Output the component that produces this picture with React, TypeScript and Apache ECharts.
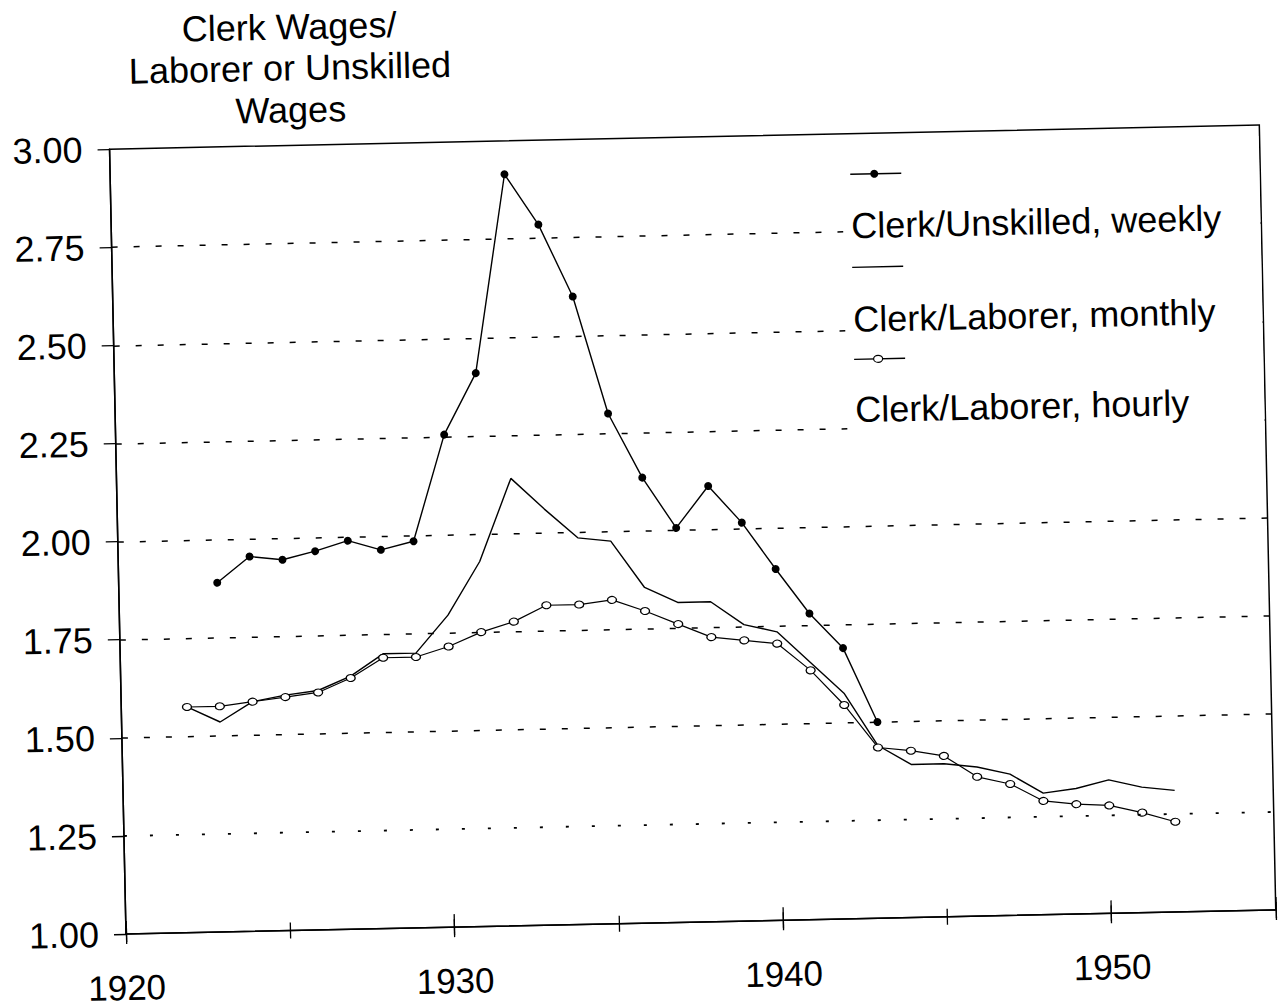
import React, { useEffect, useRef } from 'react';
import * as echarts from 'echarts';

const YEARS = [
  1922, 1923, 1924, 1925, 1926, 1927, 1928, 1929, 1930, 1931, 1932, 1933, 1934, 1935, 1936, 1937,
  1938, 1939, 1940, 1941, 1942, 1943, 1944, 1945, 1946, 1947, 1948, 1949, 1950, 1951, 1952,
];
const WEEKLY_YEARS = [
  1923, 1924, 1925, 1926, 1927, 1928, 1929, 1930, 1931, 1932, 1933, 1934, 1935, 1936, 1937, 1938,
  1939, 1940, 1941, 1942, 1943,
];
const WEEKLY = [
  1.89, 1.955, 1.945, 1.965, 1.99, 1.965, 1.985, 2.255, 2.41, 2.915, 2.785, 2.6, 2.3, 2.135, 2.005,
  2.11, 2.015, 1.895, 1.78, 1.69, 1.5,
];
const MONTHLY = [
  1.575, 1.535, 1.585, 1.6, 1.61, 1.645, 1.7, 1.7, 1.795, 1.93, 2.14, 2.06, 1.985, 1.975, 1.855,
  1.815, 1.815, 1.755, 1.735, 1.655, 1.575, 1.44, 1.39, 1.39, 1.38, 1.36, 1.31, 1.32, 1.34, 1.32,
  1.31,
];
const HOURLY = [
  1.575, 1.575, 1.585, 1.595, 1.605, 1.64, 1.69, 1.69, 1.715, 1.75, 1.775, 1.815, 1.815, 1.825,
  1.795, 1.76, 1.725, 1.715, 1.705, 1.635, 1.545, 1.435, 1.425, 1.41, 1.355, 1.335, 1.29, 1.28,
  1.275, 1.255, 1.23,
];
const DASHED_GRID = [2.75, 2.5, 2.25, 2.0, 1.75, 1.5];
const DOTTED_GRID = [1.25];
const SERIES_NAMES = ['Clerk/Unskilled, weekly', 'Clerk/Laborer, monthly', 'Clerk/Laborer, hourly'];
const TITLE_LINES = ['Clerk Wages/', 'Laborer or Unskilled', 'Wages'];

const FONT = '"Liberation Sans", Arial, Helvetica, sans-serif';
const BLACK = '#000';

function buildOption() {
  const weeklyData = WEEKLY_YEARS.map((y, i) => [y, WEEKLY[i]]);
  const monthlyData = YEARS.map((y, i) => [y, MONTHLY[i]]);
  const hourlyData = YEARS.map((y, i) => [y, HOURLY[i]]);

  const xBase = {
    type: 'value',
    min: 1920,
    max: 1955,
    position: 'bottom',
    offset: 0,
    splitLine: { show: false },
    axisLine: { show: false, onZero: false },
    axisLabel: { show: false },
  };

  const gridMarks = [
    ...DASHED_GRID.map((v) => ({
      yAxis: v,
      lineStyle: { type: [6, 16], color: BLACK, width: 1.5 },
    })),
    ...DOTTED_GRID.map((v) => ({
      yAxis: v,
      lineStyle: { type: [3, 23], color: BLACK, width: 1.8 },
    })),
  ];

  const legendY = [189.6, 282.7, 374.7];
  const legendTextY = [241, 334.7, 425];
  const titleY = [30.4, 71.4, 113.4];

  const graphic: any[] = [
    {
      type: 'rect',
      shape: { x: 858, y: 160, width: 417, height: 295 },
      style: { fill: '#fff' },
      z: 100,
    },
  ];
  legendY.forEach((y, i) => {
    graphic.push({
      type: 'line',
      shape: { x1: 866, y1: y, x2: 917, y2: y },
      style: { stroke: BLACK, lineWidth: 1.4 },
      z: 101,
    });
    if (i === 0) {
      graphic.push({
        type: 'circle',
        shape: { cx: 890, cy: y, r: 4 },
        style: { fill: BLACK },
        z: 102,
      });
    } else if (i === 2) {
      graphic.push({
        type: 'ellipse',
        shape: { cx: 890, cy: y, rx: 4.5, ry: 3.5 },
        style: { fill: '#fff', stroke: BLACK, lineWidth: 1.2 },
        z: 102,
      });
    }
    graphic.push({
      type: 'text',
      x: 866,
      y: legendTextY[i],
      style: {
        text: SERIES_NAMES[i],
        fontSize: 36,
        fontFamily: FONT,
        fill: BLACK,
        textAlign: 'left',
        textVerticalAlign: 'middle',
      },
      z: 102,
    });
  });
  TITLE_LINES.forEach((t, i) => {
    graphic.push({
      type: 'text',
      x: 308,
      y: titleY[i],
      style: {
        text: t,
        fontSize: 36,
        fontFamily: FONT,
        fill: BLACK,
        textAlign: 'center',
        textVerticalAlign: 'middle',
      },
      z: 102,
    });
  });

  return {
    animation: false,
    backgroundColor: '#fff',
    grid: {
      left: 126,
      top: 149,
      width: 1152,
      height: 785,
      show: true,
      borderColor: BLACK,
      borderWidth: 1.5,
      backgroundColor: 'transparent',
    },
    xAxis: [
      {
        ...xBase,
        interval: 10,
        axisLine: { show: true, onZero: false, lineStyle: { color: BLACK, width: 1.5 } },
        axisTick: { show: true, length: 10, lineStyle: { color: BLACK, width: 1.3 } },
        axisLabel: {
          show: true,
          formatter: (v: number) => (v % 10 === 0 ? String(v) : ''),
          fontSize: 35,
          fontFamily: FONT,
          color: BLACK,
          margin: 36,
        },
      },
      {
        ...xBase,
        interval: 10,
        axisTick: { show: true, inside: true, length: 13, lineStyle: { color: BLACK, width: 1.3 } },
      },
      {
        ...xBase,
        interval: 5,
        axisTick: { show: true, length: 8, lineStyle: { color: BLACK, width: 1.3 } },
      },
      {
        ...xBase,
        interval: 5,
        axisTick: { show: true, inside: true, length: 8, lineStyle: { color: BLACK, width: 1.3 } },
      },
    ],
    yAxis: {
      type: 'value',
      min: 1,
      max: 3,
      interval: 0.25,
      axisLine: { show: true, onZero: false, lineStyle: { color: BLACK, width: 1.5 } },
      axisTick: { show: true, length: 12, lineStyle: { color: BLACK, width: 1.3 } },
      axisLabel: {
        formatter: (v: number) => v.toFixed(2),
        fontSize: 36,
        fontFamily: FONT,
        color: BLACK,
        margin: 27,
      },
      splitLine: { show: false },
    },
    series: [
      {
        name: SERIES_NAMES[0],
        type: 'line',
        data: weeklyData,
        symbol: 'circle',
        symbolSize: 8,
        itemStyle: { color: BLACK },
        lineStyle: { color: BLACK, width: 1.4 },
        z: 3,
        markLine: {
          silent: true,
          symbol: ['none', 'none'],
          label: { show: false },
          data: gridMarks,
        },
      },
      {
        name: SERIES_NAMES[1],
        type: 'line',
        data: monthlyData,
        symbol: 'none',
        lineStyle: { color: BLACK, width: 1.4 },
        z: 3,
      },
      {
        name: SERIES_NAMES[2],
        type: 'line',
        data: hourlyData,
        symbol: 'circle',
        symbolSize: [9, 7],
        itemStyle: { color: '#fff', borderColor: BLACK, borderWidth: 1.2 },
        lineStyle: { color: BLACK, width: 1.2 },
        z: 4,
      },
    ],
    graphic,
  };
}

export default function App() {
  const ref = useRef<HTMLDivElement>(null);
  useEffect(() => {
    if (!ref.current) return;
    const chart = echarts.init(ref.current, null, { renderer: 'svg', width: 1279, height: 1007 });
    chart.setOption(buildOption() as any);
    return () => chart.dispose();
  }, []);
  return (
    <div
      style={{
        position: 'fixed',
        left: 0,
        top: 0,
        width: 1279,
        height: 1007,
        overflow: 'hidden',
        background: '#fff',
      }}
    >
      <div
        ref={ref}
        style={{
          position: 'absolute',
          left: 0,
          top: 0,
          width: 1279,
          height: 1007,
          transform: 'rotate(-1.2deg)',
          transformOrigin: '126px 934px',
        }}
      />
    </div>
  );
}
